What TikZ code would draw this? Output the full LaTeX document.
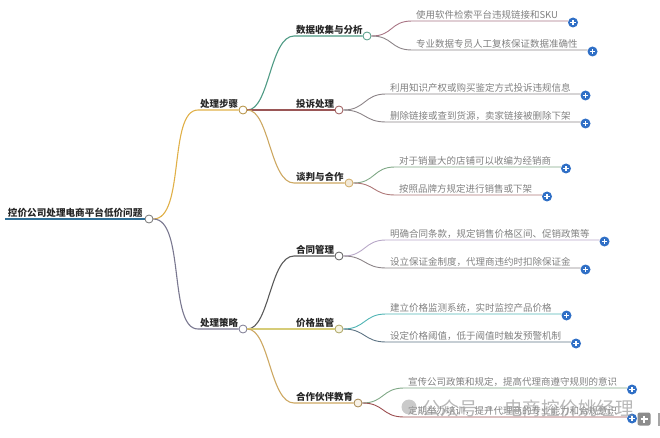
\documentclass[tikz,border=0pt]{standalone}
\usepackage{fontspec}
\setmainfont{Noto Sans CJK SC}
\begin{document}
\begin{tikzpicture}[x=1pt,y=-1pt,
  leaf/.style={inner xsep=4pt, inner ysep=1.5pt, outer sep=0pt, anchor=south west, text=black!50, font=\fontsize{9.5}{11}\selectfont},
  mid/.style={inner xsep=2pt, inner ysep=1.5pt, outer sep=0pt, anchor=south west, text=black!85, font=\fontsize{9.5}{11}\selectfont\bfseries},
  knob/.style={circle, draw=black!55, fill=white, line width=0.8pt, minimum size=8pt, inner sep=0pt},
  plus/.style={circle, fill=plusblue, minimum size=10pt, inner sep=0pt,
    path picture={\draw[white,line width=1.2pt] (path picture bounding box.center) +(-2.6pt,0) -- +(2.6pt,0) +(0,-2.6pt) -- +(0,2.6pt);}},
  leafline/.style={line width=0.9pt},
  midline/.style={line width=1.1pt}
]
\definecolor{plusblue}{HTML}{2F6FC6}
\definecolor{rootblue}{HTML}{2E6E96}
\definecolor{cgold}{HTML}{E0B048}
\definecolor{cslate}{HTML}{7A7890}
\definecolor{cteal}{HTML}{4E9A84}
\definecolor{cbrown}{HTML}{9A5656}
\definecolor{ctan}{HTML}{CDA862}
\definecolor{cdark}{HTML}{5A5A5A}
\definecolor{cyel}{HTML}{D6CC78}
\definecolor{cmauve}{HTML}{A87484}
\definecolor{cgray}{HTML}{8C8488}
\definecolor{cgreen}{HTML}{7FA886}
\definecolor{clav}{HTML}{B8A8C8}
\definecolor{cteal2}{HTML}{4FB4B4}
\definecolor{cslate2}{HTML}{5E7484}
\definecolor{cred}{HTML}{9C4E50}

\useasboundingbox (0,0) rectangle (660,438);

% root
\node[mid, font=\fontsize{9.6}{11}\selectfont\bfseries, inner xsep=3pt] (root) at (5,219) {控价公司处理电商平台低价问题};
\node[knob] (rc) at (149,219) {};
\draw[rootblue, line width=2.2pt] (root.south west) -- (rc.west);

% level 1
\node[mid] (s1) at (198,110) {处理步骤};
\node[knob, draw=cgold!80!black] (c1) at (243,110) {};
\node[mid] (s2) at (198,329) {处理策略};
\node[knob, draw=cslate] (c2) at (243,329) {};
\draw[cgold, midline] (rc.east) .. controls +(32,0) and +(-30,0) .. (s1.south west) -- (c1.west);
\draw[cslate, midline] (rc.east) .. controls +(32,0) and +(-30,0) .. (s2.south west) -- (c2.west);

% level 2
\node[mid] (t1) at (294,36) {数据收集与分析};
\node[knob, draw=cteal] (k1) at (367,36) {};
\node[mid] (t2) at (294,110) {投诉处理};
\node[knob, draw=cbrown] (k2) at (339,110) {};
\node[mid] (t3) at (294,183) {谈判与合作};
\node[knob, draw=ctan, fill=ctan!25] (k3) at (349,183) {};
\node[mid] (t4) at (294,256) {合同管理};
\node[knob, draw=cdark] (k4) at (339,256) {};
\node[mid] (t5) at (294,329) {价格监管};
\node[knob, draw=cyel!80!black, fill=cyel!20] (k5) at (339,329) {};
\node[mid] (t6) at (294,403) {合作伙伴教育};
\node[knob, draw=ctan!80!black, fill=ctan!15] (k6) at (358,403) {};

\draw[cteal, midline] (c1.east) .. controls +(22,0) and +(-24,0) .. (t1.south west) -- (k1.west);
\draw[cbrown, midline] (c1.east) -- (t2.south west) -- (k2.west);
\draw[ctan, midline] (c1.east) .. controls +(22,0) and +(-24,0) .. (t3.south west) -- (k3.west);
\draw[cdark, midline] (c2.east) .. controls +(22,0) and +(-24,0) .. (t4.south west) -- (k4.west);
\draw[cyel, midline] (c2.east) -- (t5.south west) -- (k5.west);
\draw[ctan, midline] (c2.east) .. controls +(22,0) and +(-24,0) .. (t6.south west) -- (k6.west);

% leaves
\newcommand{\leafitem}[6]{%
  \node[leaf] (#1) at (#3,#4) {#6};
  \node[plus] (#1p) at ([xshift=11pt,yshift=-1.5pt]#1.south east) {};
  \draw[#5, leafline] (#2.east) .. controls +(22,0) and +(-22,0) .. (#1.south west) -- ([xshift=6pt]#1.south east);
}
\leafitem{l1}{k1}{412}{21}{cmauve}{使用软件检索平台违规链接和SKU}
\leafitem{l2}{k1}{412}{50}{cgray}{专业数据专员人工复核保证数据准确性}
\leafitem{l3}{k2}{386}{94}{cgray}{利用知识产权或购买鉴定方式投诉违规信息}
\leafitem{l4}{k2}{386}{122}{cgray}{删除链接或查到货源，卖家链接被删除下架}
\leafitem{l5}{k3}{395}{167}{cgreen}{对于销量大的店铺可以收编为经销商}
\leafitem{l6}{k3}{395}{195}{cbrown!80}{按照品牌方规定进行销售或下架}
\leafitem{l7}{k4}{386}{240}{clav}{明确合同条款，规定销售价格区间、促销政策等}
\leafitem{l8}{k4}{386}{268}{cgray}{设立保证金制度，代理商违约时扣除保证金}
\leafitem{l9}{k5}{386}{314}{cteal2}{建立价格监测系统，实时监控产品价格}
\leafitem{l10}{k5}{386}{342}{cslate2}{设定价格阈值，低于阈值时触发预警机制}
\leafitem{l11}{k6}{404}{388}{cgreen}{宣传公司政策和规定，提高代理商遵守规则的意识}
\leafitem{l12}{k6}{404}{417}{cred}{定期举办培训，提升代理商的专业能力和合规意识}

% watermark overlay
\node[circle, fill=black!35, opacity=0.6, minimum size=15pt, inner sep=0pt] (wmicon) at (409,407) {};
\node[text=black!40, opacity=0.7, anchor=west, inner sep=0pt, font=\fontsize{18.5}{20}\selectfont] (wm) at (422,408) {公众号 · 电商控价姚经理};
\node[rounded corners=2pt, fill=black!45, minimum size=13pt, inner sep=0pt,
  path picture={\draw[white,line width=1.3pt] (path picture bounding box.center) +(-3.5pt,0) -- +(3.5pt,0) +(0,-3.5pt) -- +(0,3.5pt);}] (gp) at (644,419) {};
\node[fill=black!35, minimum width=2pt, minimum height=13pt, inner sep=0pt] (edge) at (659,419) {};
\end{tikzpicture}
\end{document}
